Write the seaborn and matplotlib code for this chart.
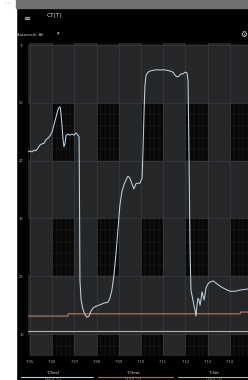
import numpy as np
import pandas as pd
import matplotlib
matplotlib.use("Agg")
import matplotlib.pyplot as plt
import seaborn as sns
from matplotlib.patches import Rectangle

sns.set_theme(style="dark")
plt.rcParams['font.family'] = ['DejaVu Sans']

# ---- data ----
x_ticks = [0, 1, 2, 3, 4, 5, 6, 7, 8, 9]
x_labels = ["7:05", "7:06", "7:07", "7:08", "7:09", "7:10", "7:11", "7:12", "7:13", "7:14"]
y_ticks = [10, 20, 30, 40, 50, 60]
y_labels = ["10", "20", "30", "40", "50", "°C"]

t_real_x = [-0.09, 0.0, 0.09, 0.18, 0.27, 0.36, 0.45, 0.54, 0.63, 0.72, 0.81, 0.90, 0.99, 1.08,
            1.17, 1.26, 1.33, 1.37, 1.44, 1.49, 1.53, 1.58, 1.62, 1.71, 1.80, 1.89, 1.98, 2.07,
            2.16, 2.21, 2.23, 2.25, 2.30, 2.39, 2.48, 2.57, 2.66, 2.75, 2.84, 2.97, 3.11, 3.24,
            3.38, 3.51, 3.60, 3.69, 3.78, 3.87, 3.96, 4.05, 4.14, 4.23, 4.32, 4.41, 4.50, 4.59,
            4.68, 4.77, 4.86, 4.95, 5.05, 5.09, 5.14, 5.18, 5.23, 5.32, 5.41, 5.63, 5.86, 6.08,
            6.31, 6.44, 6.53, 6.62, 6.71, 6.80, 6.89, 6.98, 7.07, 7.12, 7.16, 7.21, 7.25, 7.34,
            7.39, 7.43, 7.48, 7.52, 7.57, 7.61, 7.66, 7.70, 7.75, 7.79, 7.84, 7.88, 7.93, 8.02,
            8.11, 8.24, 8.38, 8.56, 8.78, 9.01, 9.23, 9.46, 9.82]
t_real_y = [41.5, 41.7, 41.5, 41.8, 41.7, 42.2, 42.7, 42.9, 43.0, 43.6, 43.9, 44.3, 44.9, 46.2,
            47.5, 48.8, 49.3, 49.1, 46.2, 43.6, 42.4, 43.0, 44.3, 44.6, 44.4, 44.6, 44.4, 44.8,
            44.4, 44.1, 33.2, 19.3, 15.9, 14.2, 13.3, 12.9, 13.1, 14.0, 14.5, 14.8, 15.0, 15.2,
            15.4, 15.5, 16.2, 17.6, 20.2, 23.7, 28.0, 32.3, 34.6, 35.8, 36.6, 37.3, 37.0, 36.0,
            35.1, 36.0, 36.1, 36.1, 37.0, 41.8, 48.8, 53.1, 54.8, 55.3, 55.5, 55.7, 55.7, 55.7,
            55.5, 55.3, 54.8, 54.5, 54.6, 55.0, 55.0, 55.3, 55.2, 53.9, 41.8, 24.5, 17.6, 15.9,
            14.8, 14.2, 13.1, 15.0, 16.2, 15.9, 15.0, 15.9, 17.3, 16.7, 15.9, 16.7, 18.0, 18.7,
            19.0, 19.2, 18.8, 18.3, 17.8, 17.4, 17.4, 17.6, 17.8]

t_heat_x = [-0.09, 1.71, 1.72, 9.46, 9.50, 9.82]
t_heat_y = [13.1, 13.1, 13.5, 13.5, 13.8, 13.8]

t_set_x = [-0.09, 9.82]
t_set_y = [10.5, 10.5]

legend_names = ["T-Real", "T-Heat", "T-Set"]
legend_values = ["(41.5 °C)", "(13.5 °C)", "(10.5 °C)"]

c_real = "#bfd2de"
c_heat = "#a9755b"
c_set = "#bcb19f"

# ---- figure ----
fig = plt.figure(figsize=(2.48, 3.80), dpi=100)
fig.patch.set_facecolor("black")
W, H = 248.0, 380.0

def fx(px):
    return px / W

def fy(py):
    return 1 - py / H

# white strip on the left, status bar
fig.add_artist(Rectangle((0, 0), fx(16), 1, transform=fig.transFigure, color="white", zorder=0))
fig.add_artist(Rectangle((fx(16), fy(8)), 1, 8 / H, transform=fig.transFigure, color="#707070", zorder=0))

# app bar texts
fig.text(fx(27), fy(18), "≡", color="#d0d0d0", fontsize=6, ha="center", va="center")
fig.text(fx(47), fy(16), "CT(T)", color="#e0e0e0", fontsize=4.2, ha="left", va="center")
fig.text(fx(17), fy(34.5), "Autoscale: All", color="#d0d0d0", fontsize=2.8, ha="left", va="center")
fig.text(fx(58), fy(34), "▾", color="#d0d0d0", fontsize=3.5, ha="center", va="center")
fig.text(fx(243.5), fy(34), "⚙", color="#e0e0e0", fontsize=5.5, ha="center", va="center")
fig.text(fx(5), fy(3.5), "▪ ▪ ▪", color="#dddddd", fontsize=2, ha="left", va="center")

ax = fig.add_axes([fx(28), fy(356), (248 - 28) / W, (356 - 43) / H])
ax.set_facecolor("#252628")
xmin, xmax = -0.09, 9.82
ymin, ymax = 6.2, 60.35
ax.set_xlim(xmin, xmax)
ax.set_ylim(ymin, ymax)

# checkerboard black blocks
for i in range(-1, 11):
    for j in range(0, 7):
        if i % 2 == 1 and j % 2 == 0:
            ax.add_patch(Rectangle((i, j * 10), 1, 10, color="#070707", zorder=0.5, lw=0))

# minor grid
for v in np.arange(-0.0, 10.0, 0.2):
    ax.axvline(v, color="#2c2d30", lw=0.3, zorder=0.6)
for v in np.arange(0, 62, 2):
    ax.axhline(v, color="#2c2d30", lw=0.3, zorder=0.6)
# major grid
for v in x_ticks:
    ax.axvline(v, color="#3b3c40", lw=0.5, zorder=0.7)
for v in y_ticks:
    ax.axhline(v, color="#3b3c40", lw=0.5, zorder=0.7)

sns.lineplot(x=t_set_x, y=t_set_y, ax=ax, color=c_set, lw=0.8, sort=False, zorder=2)
sns.lineplot(x=t_heat_x, y=t_heat_y, ax=ax, color=c_heat, lw=0.9, sort=False, zorder=2)
sns.lineplot(x=t_real_x, y=t_real_y, ax=ax, color=c_real, lw=0.75, sort=False, zorder=3)

ax.set_xticks(x_ticks)
ax.set_xticklabels(x_labels, color="#b0b0b0", fontsize=2.6)
ax.set_yticks(y_ticks)
ax.set_yticklabels(y_labels, color="#b0b0b0", fontsize=2.6)
ax.tick_params(length=0, pad=3)
ax.grid(False)
for s in ax.spines.values():
    s.set_visible(False)
ax.set_xlabel("")
ax.set_ylabel("")

# bottom legend
centers = [53, 133, 214]
spans = [(21, 93), (98, 173), (178, 248)]
colors = [c_real, c_heat, c_set]
for name, val, cx, (a, b), col in zip(legend_names, legend_values, centers, spans, colors):
    fig.text(fx(cx), fy(372.5), name, color="#dddddd", fontsize=2.8, ha="center", va="center")
    fig.text(fx(cx), fy(379.5), val, color="#aaaaaa", fontsize=2.6, ha="center", va="center")
    fig.add_artist(plt.Line2D([fx(a), fx(b)], [fy(376.5), fy(376.5)], transform=fig.transFigure,
                              color=col, lw=0.8))

fig.savefig("out.png", dpi=100, facecolor=fig.get_facecolor())
